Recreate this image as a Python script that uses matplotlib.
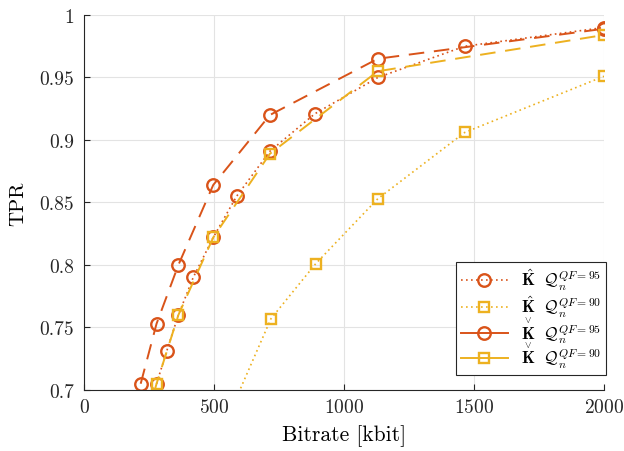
import matplotlib
matplotlib.use("Agg")
import matplotlib.pyplot as plt
from matplotlib.lines import Line2D

plt.rcParams['font.family'] = 'serif'
plt.rcParams['font.serif'] = ['cmr10']
plt.rcParams['mathtext.fontset'] = 'cm'
plt.rcParams['axes.formatter.use_mathtext'] = True

red = '#D95319'
yel = '#EDB120'

# Khat, QF=95 (dotted, circles)
x_hat95 = [279, 318, 363, 420, 497, 587, 715, 888, 1130, 1464, 2000]
y_hat95 = [0.705, 0.731, 0.760, 0.790, 0.822, 0.855, 0.891, 0.921, 0.950, 0.975, 0.990]
# Khat, QF=90 (dotted, squares)
x_hat90 = [587, 719, 891, 1130, 1464, 2000]
y_hat90 = [0.694, 0.757, 0.801, 0.853, 0.906, 0.951]
# Kcheck, QF=95 (dashed, circles)
x_chk95 = [218, 279, 363, 497, 715, 1130, 2000]
y_chk95 = [0.705, 0.753, 0.800, 0.864, 0.920, 0.965, 0.989]
# Kcheck, QF=90 (dashed, squares)
x_chk90 = [218, 279, 363, 497, 715, 1130, 2000]
y_chk90 = [0.660, 0.705, 0.760, 0.822, 0.889, 0.955, 0.984]

xticks = [0, 500, 1000, 1500, 2000]
yticks = [0.7, 0.75, 0.8, 0.85, 0.9, 0.95, 1.0]
ytick_labels = ['0.7', '0.75', '0.8', '0.85', '0.9', '0.95', '1']

# mathtext misplaces \check, so the caron is put over the K afterwards
labels = [r'$\hat{\mathbf{K}}\ \ \mathcal{Q}_n^{QF=95}$',
          r'$\hat{\mathbf{K}}\ \ \mathcal{Q}_n^{QF=90}$',
          r'$\mathbf{K}\ \ \mathcal{Q}_n^{QF=95}$',
          r'$\mathbf{K}\ \ \mathcal{Q}_n^{QF=90}$']

fig = plt.figure(figsize=(6.24, 4.52), dpi=100)
ax = fig.add_axes([0.1346, 0.135, 0.8334, 0.8296])

circ = dict(marker='o', markersize=9, markerfacecolor='none', markeredgewidth=1.7)
sq = dict(marker='s', markersize=6.5, markerfacecolor='none', markeredgewidth=1.7)

ax.plot(x_hat95, y_hat95, color=red, linestyle=(0, (1, 2)), lw=1.2, **circ)
ax.plot(x_hat90, y_hat90, color=yel, linestyle=(0, (1, 2)), lw=1.2, **sq)
ax.plot(x_chk95, y_chk95, color=red, linestyle=(0, (8, 5)), lw=1.4, **circ)
ax.plot(x_chk90, y_chk90, color=yel, linestyle=(0, (8, 5)), lw=1.4, **sq)

handles = [Line2D([], [], color=red, linestyle=(0, (1, 2)), lw=1.2, **circ),
           Line2D([], [], color=yel, linestyle=(0, (1, 2)), lw=1.2, **sq),
           Line2D([], [], color=red, linestyle='-', lw=1.4, **circ),
           Line2D([], [], color=yel, linestyle='-', lw=1.4, **sq)]

ax.set_xlim(0, 2000)
ax.set_ylim(0.7, 1.0)
ax.set_xticks(xticks)
ax.set_yticks(yticks)
ax.set_yticklabels(ytick_labels)
ax.grid(True, color='#e3e3e3', lw=0.8)
ax.set_axisbelow(True)
for s in ['top', 'right']:
    ax.spines[s].set_visible(False)
for s in ['left', 'bottom']:
    ax.spines[s].set_color('#262626')
ax.tick_params(direction='in', length=4, labelsize=14, colors='#262626')
ax.tick_params(axis='x', pad=6)
ax.tick_params(axis='y', pad=7)
ax.set_xlabel('Bitrate [kbit]', fontsize=15.5, labelpad=6)
ax.set_ylabel('TPR', fontsize=15, labelpad=9)

leg = ax.legend(handles, labels, loc='lower right', bbox_to_anchor=(1.004, 0.04),
                fontsize=12, fancybox=False, framealpha=1, edgecolor='#262626',
                borderaxespad=0, handlelength=2.8, labelspacing=0.12, borderpad=0.3)
leg.get_frame().set_linewidth(0.8)

# caron over the K of the last two legend entries
fig.canvas.draw()
rend = fig.canvas.get_renderer()
W, H = fig.bbox.width, fig.bbox.height
for t in leg.get_texts()[2:]:
    bb = t.get_window_extent(rend)
    prop = t.get_fontproperties()
    w, h, d = rend.get_text_width_height_descent(t.get_text(), prop, ismath=True)
    wk, hk, dk = rend.get_text_width_height_descent(r'$\mathbf{K}$', prop, ismath=True)
    cx = bb.x0 + wk / 2
    ytop = bb.y0 + d + hk - dk
    fig.text(cx / W, (ytop + 1.0) / H, r'$\vee$', fontsize=7,
             ha='center', va='bottom')

fig.savefig('out.png', dpi=100)
